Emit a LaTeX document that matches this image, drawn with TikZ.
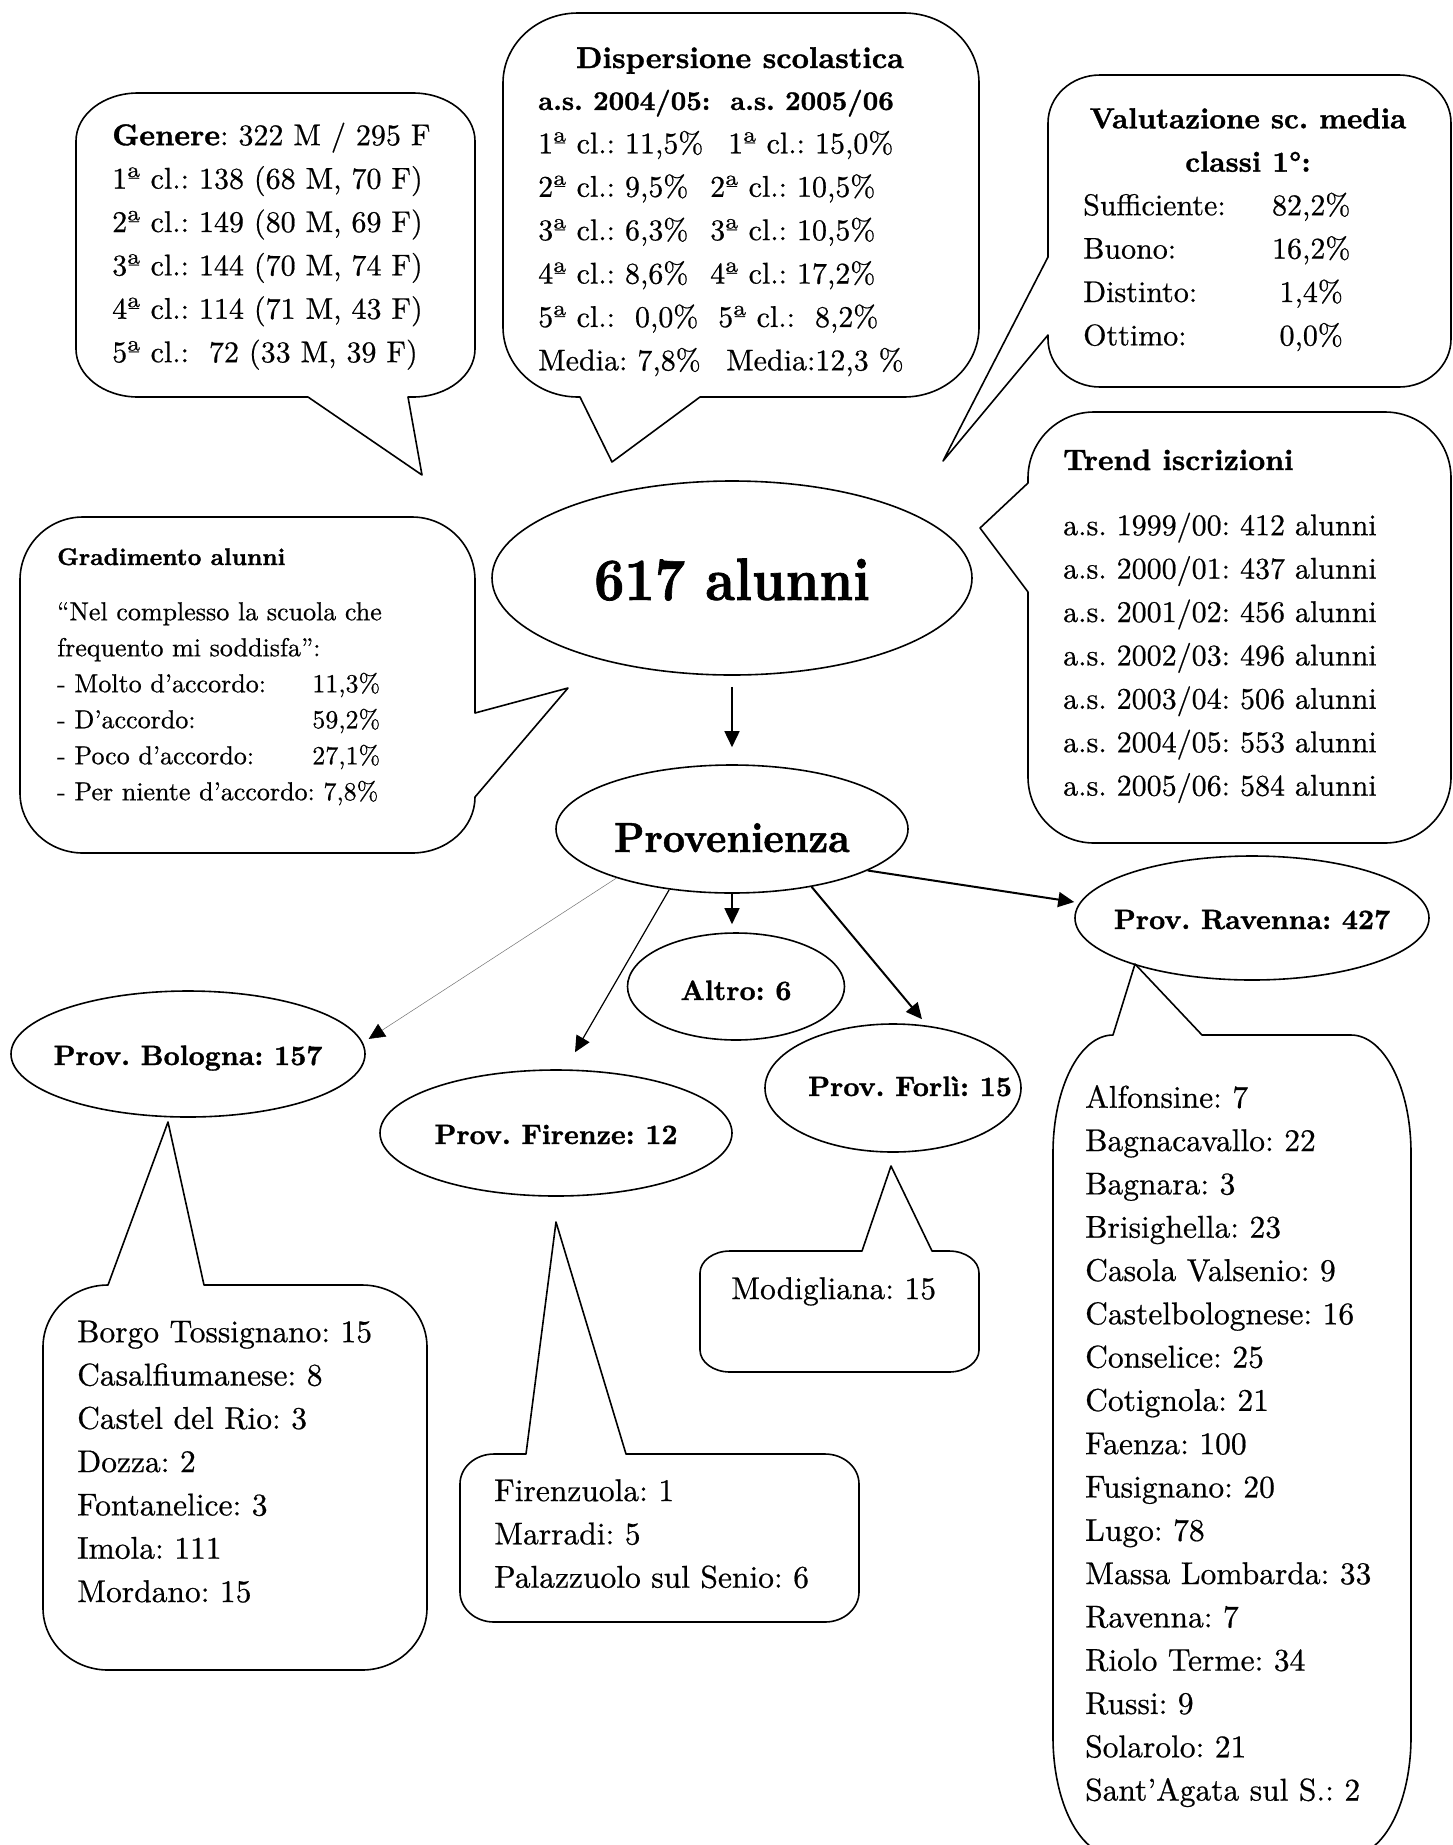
\documentclass[tikz,border=0pt]{standalone}
\usepackage{fontspec}
\usepackage{graphicx}
\setmainfont{lmroman10-regular}[Extension=.otf,BoldFont=lmroman10-bold,
  UprightFeatures={FakeBold=0.6},BoldFeatures={FakeBold=1.2}]
\usetikzlibrary{arrows.meta,shapes.geometric}
\frenchspacing
\begin{document}
\frenchspacing
\begin{tikzpicture}[x=1pt,y=-1pt,
  shapeline/.style={line width=1.6pt, line join=round},
  ovl/.style={draw, ellipse, line width=1.6pt, inner sep=0pt, text height=22pt, text depth=0pt,
     font=\bfseries\fontsize{28}{28}\selectfont},
  arr/.style={-{Triangle[length=16pt,width=15pt,color=black]}, line width=1.6pt},
  txt/.style={inner sep=0pt, anchor=north west, align=left, font=\fontsize{30}{43.4}\selectfont},
  lst/.style={inner sep=0pt, anchor=north west, align=left, font=\fontsize{31.5}{43.3}\selectfont},
  ttl/.style={inner sep=0pt, font=\bfseries\fontsize{30}{43.4}\selectfont}]
\useasboundingbox (0,0) rectangle (1453,1845);
\fill[white] (0,0) rectangle (1453,1845);

% ---------- callout shapes ----------
% Genere
\draw[shapeline] (138,93) -- (413,93) arc[start angle=-90,end angle=0,x radius=62,y radius=48]
  -- (475,349) arc[start angle=0,end angle=90,x radius=62,y radius=48]
  -- (408,397) -- (422,475) -- (308,397) -- (138,397)
  arc[start angle=90,end angle=180,x radius=62,y radius=48]
  -- (76,141) arc[start angle=180,end angle=270,x radius=62,y radius=48] -- cycle;
% Dispersione
\draw[shapeline] (578,13) -- (904,13) arc[start angle=-90,end angle=0,x radius=75,y radius=70]
  -- (979,327) arc[start angle=0,end angle=90,x radius=75,y radius=70]
  -- (700,397) -- (612,462) -- (580,397) -- (578,397)
  arc[start angle=90,end angle=180,x radius=75,y radius=70]
  -- (503,83) arc[start angle=180,end angle=270,x radius=75,y radius=70] -- cycle;
% Valutazione
\draw[shapeline] (1100,75) -- (1399,75) arc[start angle=-90,end angle=0,x radius=52,y radius=48]
  -- (1451,339) arc[start angle=0,end angle=90,x radius=52,y radius=48]
  -- (1100,387) arc[start angle=90,end angle=180,x radius=52,y radius=48]
  -- (1048,335) -- (943,461) -- (1048,257)
  -- (1048,123) arc[start angle=180,end angle=270,x radius=52,y radius=48] -- cycle;
% Trend
\draw[shapeline] (1094,412) -- (1385,412) arc[start angle=-90,end angle=0,x radius=66,y radius=66]
  -- (1451,777) arc[start angle=0,end angle=90,x radius=66,y radius=66]
  -- (1094,843) arc[start angle=90,end angle=180,x radius=66,y radius=66]
  -- (1028,592) -- (980,528) -- (1028,483)
  -- (1028,478) arc[start angle=180,end angle=270,x radius=66,y radius=66] -- cycle;
% Gradimento
\draw[shapeline] (83,517) -- (412,517) arc[start angle=-90,end angle=0,x radius=63,y radius=63]
  -- (475,713) -- (568,688) -- (475,797)
  arc[start angle=0,end angle=90,x radius=63,y radius=56]
  -- (83,853) arc[start angle=90,end angle=180,x radius=63,y radius=60]
  -- (20,580) arc[start angle=180,end angle=270,x radius=63,y radius=63] -- cycle;
% Bologna list
\draw[shapeline] (108,1285) -- (168,1122) -- (204,1285) -- (362,1285)
  arc[start angle=-90,end angle=0,x radius=65,y radius=62]
  -- (427,1608) arc[start angle=0,end angle=90,x radius=65,y radius=62]
  -- (108,1670) arc[start angle=90,end angle=180,x radius=65,y radius=62]
  -- (43,1347) arc[start angle=180,end angle=270,x radius=65,y radius=62] -- cycle;
% Firenze list
\draw[shapeline] (494,1454) -- (526,1454) -- (556,1222) -- (626,1454) -- (825,1454)
  arc[start angle=-90,end angle=0,x radius=34,y radius=30]
  -- (859,1592) arc[start angle=0,end angle=90,x radius=34,y radius=30]
  -- (494,1622) arc[start angle=90,end angle=180,x radius=34,y radius=30]
  -- (460,1484) arc[start angle=180,end angle=270,x radius=34,y radius=30] -- cycle;
% Forli list
\draw[shapeline] (730,1251) -- (862,1251) -- (891,1166) -- (932,1251) -- (949,1251)
  arc[start angle=-90,end angle=0,x radius=30,y radius=22]
  -- (979,1350) arc[start angle=0,end angle=90,x radius=30,y radius=22]
  -- (730,1372) arc[start angle=90,end angle=180,x radius=30,y radius=22]
  -- (700,1273) arc[start angle=180,end angle=270,x radius=30,y radius=22] -- cycle;
% Ravenna list
\begin{scope}
\clip (0,0) rectangle (1453,1845);
\draw[shapeline] (1113,1035) -- (1135,964) -- (1202,1035) -- (1351,1035)
  arc[start angle=-90,end angle=0,x radius=60,y radius=118]
  -- (1411,1737) arc[start angle=0,end angle=90,x radius=60,y radius=118]
  -- (1113,1855) arc[start angle=90,end angle=180,x radius=60,y radius=118]
  -- (1053,1153) arc[start angle=180,end angle=270,x radius=60,y radius=118] -- cycle;
\end{scope}

% ---------- ellipses ----------
\node[ovl, minimum width=480pt, minimum height=194pt, text height=44pt,
      font=\bfseries\fontsize{60}{60}\selectfont] (main) at (732,578) {\makebox[0pt]{\scalebox{0.88}[1]{617 alunni}}};
\node[ovl, minimum width=352pt, minimum height=128pt, text height=46pt,
      font=\bfseries\fontsize{42}{42}\selectfont] (prov) at (732,829) {\makebox[0pt]{\scalebox{0.92}[1]{Provenienza}}};
\node[ovl, minimum width=217pt, minimum height=107pt, text height=27pt] (alt) at (736,986.5) {\makebox[0pt]{Altro: 6}};
\node[ovl, minimum width=354pt, minimum height=126pt] (bol) at (188,1054) {\makebox[0pt]{Prov. Bologna: 157}};
\node[ovl, minimum width=352pt, minimum height=126pt] (fir) at (556,1133) {\makebox[0pt]{Prov. Firenze: 12}};
\node[ovl, minimum width=256pt, minimum height=128pt, text height=16pt] (forl) at (893,1088) {\makebox[0pt]{\hspace*{34pt}Prov. Forlì: 15}};
\node[ovl, minimum width=354pt, minimum height=124pt] (rav) at (1252,918) {\makebox[0pt]{Prov. Ravenna: 427}};

% ---------- arrows ----------
\draw[arr] ([yshift=-11pt]main.south) -- ([yshift=17pt]prov.north);
\draw[arr, line width=0.5pt, draw=black!55] (prov.-157) -- ([xshift=8pt]bol.5);
\draw[arr, line width=1.2pt] (prov.-136) -- ([xshift=19pt,yshift=17pt]fir.north);
\draw[arr] (prov.south) -- ([xshift=-4pt,yshift=8pt]alt.north);
\draw[arr, line width=2pt] (prov.-36) -- ([xshift=29pt,yshift=4pt]forl.north);
\draw[arr, line width=2pt] (prov.-17) -- ([yshift=16pt]rav.west);

% ---------- texts ----------
\node[txt] (tgen) at (112,122.5) {\textbf{Genere}: 322 M / 295 F\\
  1ª cl.: 138 (68 M, 70 F)\\ 2ª cl.: 149 (80 M, 69 F)\\ 3ª cl.: 144 (70 M, 74 F)\\
  4ª cl.: 114 (71 M, 43 F)\\ 5ª cl.:\ \ 72 (33 M, 39 F)};

\node[ttl, anchor=base] (tdisp) at (740,68) {Dispersione scolastica};
\node[txt] (tdisp2) at (538,89.5) {{\fontsize{27}{43.4}\selectfont\bfseries\makebox[192pt][l]{a.s. 2004/05:}a.s. 2005/06}\\
  \makebox[190pt][l]{1ª cl.: 11,5\%}1ª cl.: 15,0\%\\
  \makebox[172pt][l]{2ª cl.: 9,5\%}2ª cl.: 10,5\%\\
  \makebox[172pt][l]{3ª cl.: 6,3\%}3ª cl.: 10,5\%\\
  \makebox[172pt][l]{4ª cl.: 8,6\%}4ª cl.: 17,2\%\\
  \makebox[180pt][l]{5ª cl.:\ \ 0,0\%}5ª cl.:\ \ 8,2\%\\
  \makebox[188pt][l]{Media: 7,8\%}Media:12,3 \%};

\node[ttl, anchor=north, align=center, font=\bfseries\fontsize{29}{43.4}\selectfont] (tval) at (1248,108) {Valutazione sc. media\\ classi 1°:};
\node[txt] (tval2) at (1083,192.5) {\makebox[178pt][l]{Sufficiente:}\makebox[100pt][c]{82,2\%}\\
  \makebox[178pt][l]{Buono:}\makebox[100pt][c]{16,2\%}\\
  \makebox[178pt][l]{Distinto:}\makebox[100pt][c]{1,4\%}\\
  \makebox[178pt][l]{Ottimo:}\makebox[100pt][c]{0,0\%}};

\node[ttl, anchor=base west, font=\bfseries\fontsize{29.5}{43.4}\selectfont] (ttr) at (1063,470) {Trend iscrizioni};
\node[txt] (ttr2) at (1063,512.5) {a.s. 1999/00: 412 alunni\\ a.s. 2000/01: 437 alunni\\
  a.s. 2001/02: 456 alunni\\ a.s. 2002/03: 496 alunni\\ a.s. 2003/04: 506 alunni\\
  a.s. 2004/05: 553 alunni\\ a.s. 2005/06: 584 alunni};

\node[ttl, anchor=base west, font=\bfseries\fontsize{24}{36}\selectfont] (tgra) at (57,565) {Gradimento alunni};
\node[txt, font=\fontsize{26}{36}\selectfont] (tgra2) at (57,602) {“Nel complesso la scuola che\\
  frequento mi soddisfa”:\\
  \makebox[323pt][l]{- Molto d’accordo:\hfill 11,3\%}\\
  \makebox[323pt][l]{- D’accordo:\hfill 59,2\%}\\
  \makebox[323pt][l]{- Poco d’accordo:\hfill 27,1\%}\\
  - Per niente d’accordo: 7,8\%};

\node[lst] (tbol) at (77,1320.5) {Borgo Tossignano: 15\\ Casalfiumanese: 8\\ Castel del Rio: 3\\
  Dozza: 2\\ Fontanelice: 3\\ Imola: 111\\ Mordano: 15};
\node[lst] (tfir) at (494,1479) {Firenzuola: 1\\ Marradi: 5\\ Palazzuolo sul Senio: 6};
\node[lst] (tfor) at (731,1277) {Modigliana: 15};
\node[lst] (trav) at (1085,1085) {Alfonsine: 7\\ Bagnacavallo: 22\\ Bagnara: 3\\ Brisighella: 23\\
  Casola Valsenio: 9\\ Castelbolognese: 16\\ Conselice: 25\\ Cotignola: 21\\ Faenza: 100\\
  Fusignano: 20\\ Lugo: 78\\ Massa Lombarda: 33\\ Ravenna: 7\\ Riolo Terme: 34\\ Russi: 9\\
  Solarolo: 21\\ Sant’Agata sul S.: 2};
\end{tikzpicture}
\end{document}
